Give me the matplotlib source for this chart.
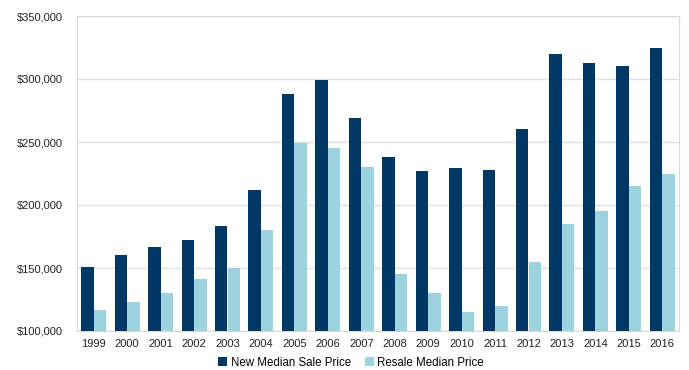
import matplotlib
matplotlib.use("Agg")
import matplotlib.pyplot as plt
import numpy as np
from matplotlib.ticker import FuncFormatter

years = [str(y) for y in range(1999, 2017)]
new_median = [151000, 160000, 167000, 172000, 183000, 212000, 288000, 299000, 269000,
              238000, 227000, 229000, 228000, 260000, 320000, 313000, 310000, 325000]
resale_median = [117000, 123000, 130000, 141000, 150000, 180000, 249000, 245000, 230000,
                 145000, 130000, 115000, 120000, 155000, 185000, 195000, 215000, 225000]

plt.rcParams['font.family'] = ['Liberation Sans', 'DejaVu Sans']

fig = plt.figure(figsize=(6.89, 3.70), dpi=100)
ax = fig.add_axes([77/689, 1 - 331/370, (679-77)/689, (331-16)/370])

x = np.arange(len(years))
w = 0.375
ax.bar(x - w/2, new_median, w, color='#003865', label='New Median Sale Price', zorder=3)
ax.bar(x + w/2, resale_median, w, color='#9dd3df', label='Resale Median Price', zorder=3)

ax.set_xlim(-0.5, len(years) - 0.5)
ax.set_ylim(100000, 350000)
ax.set_yticks(range(100000, 350001, 50000))
ax.yaxis.set_major_formatter(FuncFormatter(lambda v, p: f"${int(v):,}"))
ax.set_xticks(x)
ax.set_xticklabels(years)
ax.tick_params(axis='both', length=0, labelsize=8, colors='#222222')
ax.tick_params(axis='y', pad=10)
ax.tick_params(axis='x', pad=6)
ax.grid(axis='y', color='#e0e0e0', linewidth=1, zorder=0)
for s in ['left', 'top', 'right', 'bottom']:
    ax.spines[s].set_color('#d9d9d9')

ax.legend(loc='center', bbox_to_anchor=(0.455, -0.101), ncol=2, frameon=False,
          fontsize=8.3, handlelength=0.8, handleheight=0.8, handletextpad=0.3,
          columnspacing=1.2, borderpad=0)

fig.savefig('out.png', dpi=100)
